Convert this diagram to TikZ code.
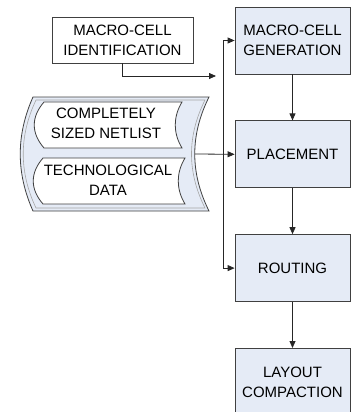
\documentclass[tikz,border=0pt]{standalone}
\usepackage{fontspec}
\setmainfont{Liberation Sans}
\usetikzlibrary{arrows.meta,positioning}
\definecolor{boxfill}{RGB}{229,235,246}

\begin{document}
\begin{tikzpicture}[
      x=1pt, y=-1pt,
      stepbox/.style={
         rectangle,
         draw=black!75,
         fill=boxfill,
         line width=0.8pt,
         align=center,
         inner sep=0pt,
         minimum width=115pt,
         minimum height=67pt,
         font=\fontsize{15}{20}\selectfont},
      inbox/.style={
         stepbox,
         fill=white,
         minimum width=141pt,
         minimum height=46pt},
      doctext/.style={
         align=center,
         inner sep=0pt,
         font=\fontsize{15}{20}\selectfont},
      storeline/.style={draw=black!75, line width=0.8pt},
      myarrow/.style={-{Triangle[length=7pt,width=6pt]}, line width=0.8pt, black!85},
      node distance=46pt
      ]
      \useasboundingbox (0,0) rectangle (352,412);
      \clip (0,0) rectangle (352,412);

      % flow of the layout steps
      \node[stepbox] (gen) at (292.5,40.5) {MACRO-CELL\\GENERATION};
      \node[stepbox,below=of gen] (place) {PLACEMENT};
      \node[stepbox,below=of place] (rout) {ROUTING};
      \node[stepbox,below=of rout] (layout) {LAYOUT\\COMPACTION};

      \node[inbox] (ident) at (122.5,40) {MACRO-CELL\\IDENTIFICATION};

      % stored data: outer shape, its inner rim, and the two documents
      \draw[storeline, fill=boxfill] (33,97) -- (209,97)
         .. controls (190,135) and (190,173) .. (209,211) -- (33,211)
         .. controls (16,173) and (16,135) .. (33,97) -- cycle;
      \draw[draw=black!35, line width=0.6pt] (36,100) -- (205,100)
         .. controls (187,136) and (187,172) .. (205,208) -- (36,208)
         .. controls (19,172) and (19,136) .. (36,100) -- cycle;
      \draw[storeline, fill=white] (44,102) -- (182,102)
         .. controls (173,117) and (173,133) .. (182,148) -- (44,148)
         .. controls (31,133) and (31,117) .. (44,102) -- cycle;
      \draw[storeline, fill=white] (43,158) -- (185,158)
         .. controls (176,173) and (176,189) .. (185,204) -- (43,204)
         .. controls (30,189) and (30,173) .. (43,158) -- cycle;
      \node[doctext] (netlist) at (106,123) {COMPLETELY\\SIZED NETLIST};
      \node[doctext] (techdata) at (108,180) {TECHNOLOGICAL\\DATA};

      \coordinate (store) at (195,154);
      \coordinate (bus) at (223,0);
      \coordinate (identend) at (216,76);

    \foreach \i/\j in {gen/place, place/rout, rout/layout}
       \draw [myarrow] (\i) -- (\j);

    \draw [myarrow] (ident.south) |- (identend);
    \draw [myarrow] (bus |- rout.west) |- (gen.west);
    \draw [myarrow] (bus |- rout.west) -- (rout.west);
    \draw [myarrow] (store) -- (place.west);

    \end{tikzpicture}
\end{document}
